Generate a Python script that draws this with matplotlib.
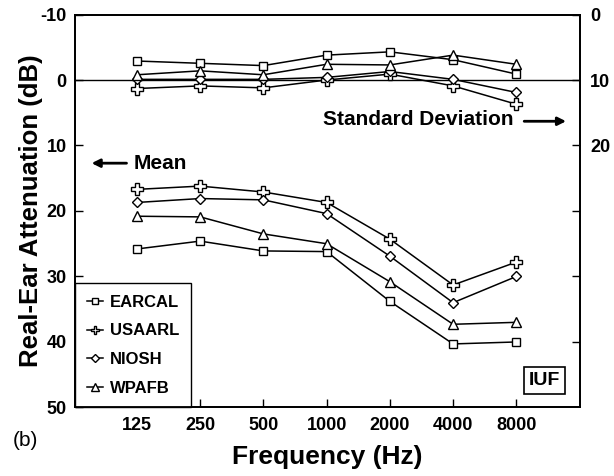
import matplotlib
matplotlib.use('Agg')
import matplotlib.pyplot as plt

plt.rcParams['font.family'] = ['Liberation Sans', 'DejaVu Sans']
plt.rcParams['font.weight'] = 'bold'
plt.rcParams['axes.unicode_minus'] = False

freqs = ['125', '250', '500', '1000', '2000', '4000', '8000']
labs = ['EARCAL', 'USAARL', 'NIOSH', 'WPAFB']

# mean attenuation (dB), left axis
mean_earcal = [25.8, 24.6, 26.1, 26.2, 33.8, 40.3, 40.0]
mean_usaarl = [16.7, 16.2, 17.1, 18.7, 24.3, 31.3, 27.8]
mean_niosh = [18.7, 18.1, 18.3, 20.4, 26.9, 34.0, 30.0]
mean_wpafb = [20.8, 20.9, 23.5, 25.0, 30.8, 37.3, 37.0]

# standard deviation (dB), right axis
sd_earcal = [7.1, 7.45, 7.8, 6.2, 5.7, 6.9, 9.1]
sd_usaarl = [11.3, 10.9, 11.2, 10.0, 9.1, 10.9, 13.7]
sd_niosh = [9.9, 9.9, 9.9, 9.6, 8.7, 9.9, 11.9]
sd_wpafb = [9.2, 8.6, 9.2, 7.6, 7.7, 6.2, 7.6]

means = [mean_earcal, mean_usaarl, mean_niosh, mean_wpafb]
sds = [sd_earcal, sd_usaarl, sd_niosh, sd_wpafb]
markers = ['s', 'P', 'D', '^']
msizes = [5.5, 8, 5.5, 7.5]

fig = plt.figure(figsize=(6.14, 4.76), dpi=100)
ax = fig.add_axes([0.122, 0.144, 0.823, 0.8255])
ax2 = ax.twinx()

x = list(range(len(freqs)))

ax.axhline(0, color='black', lw=1.0)

for m, mk, ms, lab in zip(means, markers, msizes, labs):
    ax.plot(x, m, color='black', lw=1.1, marker=mk, ms=ms, mfc='white',
            mec='black', mew=1.0, label=lab)

for s, mk, ms in zip(sds, markers, msizes):
    ax2.plot(x, s, color='black', lw=1.1, marker=mk, ms=ms, mfc='white',
             mec='black', mew=1.0)

ax.set_xlim(-0.98, 7.01)
ax.set_ylim(50, -10)
ax2.set_ylim(60, 0)

ax.set_xticks(x)
ax.set_xticklabels(freqs)
ax.set_yticks([-10, 0, 10, 20, 30, 40, 50])
ax2.set_yticks([0, 10, 20, 30, 40, 50])
ax2.set_yticklabels(['0', '10', '20', '', '', ''])

ax.tick_params(axis='x', direction='in', length=6, width=1, labelsize=13, pad=7)
ax.tick_params(axis='y', direction='in', length=6, width=1, labelsize=13, pad=6)
ax2.tick_params(axis='y', direction='in', length=6, width=1, labelsize=13, pad=7)

for a in (ax, ax2):
    for sp in a.spines.values():
        sp.set_linewidth(1.3)

ax.set_xlabel('Frequency (Hz)', fontsize=19, fontweight='bold', labelpad=8)
ax.set_ylabel('Real-Ear Attenuation (dB)', fontsize=18.5, fontweight='bold')
ax.yaxis.set_label_coords(-0.064, 0.5)

leg = ax.legend(loc='lower left', bbox_to_anchor=(0, 0), borderaxespad=0,
                fontsize=12, handlelength=1.0, handletextpad=0.4,
                labelspacing=0.82, markerscale=0.75, fancybox=False,
                edgecolor='black', framealpha=1, borderpad=0.7)
leg.get_frame().set_linewidth(1.0)
for t in leg.get_texts():
    t.set_fontweight('bold')

ax.annotate('', xy=(-0.76, 12.7), xytext=(-0.12, 12.7),
            arrowprops=dict(arrowstyle='-|>', color='black', lw=2, mutation_scale=12))
ax.text(-0.05, 12.7, 'Mean', fontsize=15, fontweight='bold', va='center', ha='left')

ax.text(5.95, 6.0, 'Standard Deviation', fontsize=15, fontweight='bold',
        va='center', ha='right')
ax.annotate('', xy=(6.83, 6.3), xytext=(6.08, 6.3),
            arrowprops=dict(arrowstyle='-|>', color='black', lw=2, mutation_scale=12))

ax.text(6.45, 45.9, 'IUF', fontsize=14, fontweight='bold', ha='center', va='center',
        bbox=dict(boxstyle='square,pad=0.25', fc='white', ec='black', lw=1.2))

fig.text(25 / 614, 1 - 440 / 476, '(b)', fontsize=15, fontweight='normal',
         ha='center', va='center')

fig.savefig('out.png', dpi=100, facecolor='white')
